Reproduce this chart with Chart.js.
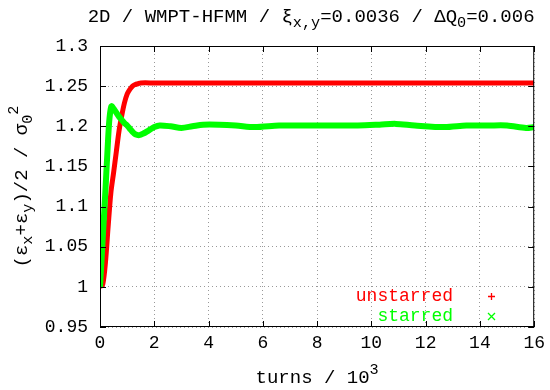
<!DOCTYPE html>
<html>
<head>
<meta charset="utf-8">
<script src="https://cdn.jsdelivr.net/npm/chart.js@4/dist/chart.umd.min.js"></script>
<style>
  html, body { margin: 0; padding: 0; background: #fff; }
  #wrap { width: 550px; height: 390px; position: relative; }
</style>
</head>
<body>
<div id="wrap"><canvas id="emitChart"></canvas></div>
<script>
/* emittance growth, starred vs unstarred */
const unstarredTurns = [0, 0.1, 0.2, 0.3, 0.4, 0.5, 0.6, 0.7, 0.8, 0.9, 1.0, 1.1, 1.2, 1.3, 1.4, 1.5, 2, 4, 6, 8, 10, 12, 14, 16];
const unstarredEmit  = [1.0, 1.003, 1.03, 1.075, 1.117, 1.142, 1.168, 1.194, 1.213, 1.229, 1.24, 1.246, 1.25, 1.252, 1.253, 1.254, 1.254, 1.254, 1.254, 1.254, 1.254, 1.254, 1.254, 1.254];

const starredTurns = [0, 0.1, 0.2, 0.3, 0.35, 0.42, 0.5, 0.6, 0.7, 0.8, 0.9, 1.0, 1.1, 1.2, 1.3, 1.45, 1.6, 1.8, 2.0, 2.2, 2.6, 3.0, 3.4, 3.8, 4.4, 5.0, 5.7, 6.6, 7.5, 8.5, 9.5, 10.3, 10.9, 11.6, 12.7, 13.5, 14.3, 15.0, 15.7, 16];
const starredEmit  = [1.0, 1.06, 1.12, 1.185, 1.21, 1.225, 1.222, 1.217, 1.212, 1.208, 1.204, 1.201, 1.197, 1.193, 1.19, 1.189, 1.191, 1.195, 1.199, 1.201, 1.2, 1.198, 1.2, 1.202, 1.202, 1.201, 1.199, 1.201, 1.201, 1.201, 1.201, 1.202, 1.203, 1.201, 1.199, 1.201, 1.201, 1.201, 1.198, 1.199];

const xTicks = [0, 2, 4, 6, 8, 10, 12, 14, 16];
const yTicks = [0.95, 1, 1.05, 1.1, 1.15, 1.2, 1.25, 1.3];

const seriesLabels = ['unstarred', 'starred'];
const seriesColors = ['#ff0000', '#00ff00'];

const FONT = '"Liberation Mono", "DejaVu Sans Mono", monospace';
const FSIZE = 18;   // tick labels
const LSIZE = 19;   // title and axis labels

const toPoints = (xs, ys) => xs.map((x, i) => ({ x, y: ys[i] }));

// text with sub/superscripts: [text, mode] pairs, mode '' | 'sub' | 'sup'
function richWidth(ctx, parts, size) {
  let w = 0;
  parts.forEach(([t, m]) => {
    ctx.font = `${m ? size * 0.8 : size}px ${FONT}`;
    w += ctx.measureText(t).width;
  });
  return w;
}
function drawRich(ctx, parts, x, y, size, color) {
  ctx.fillStyle = color;
  ctx.textBaseline = 'middle';
  ctx.textAlign = 'left';
  let cx = x;
  parts.forEach(([t, m]) => {
    const s = m ? size * 0.8 : size;
    ctx.font = `${s}px ${FONT}`;
    const dy = m === 'sub' ? size * 0.3 : m === 'sup' ? -size * 0.42 : 0;
    ctx.fillText(t, cx, y + dy);
    cx += ctx.measureText(t).width;
  });
}

const titleParts = [['2D / WMPT-HFMM / ξ', ''], ['x,y', 'sub'], ['=0.0036 / ΔQ', ''], ['0', 'sub'], ['=0.006', '']];
const xLabelParts = [['turns / 10', ''], ['3', 'sup']];
const yLabelParts = [['(ε', ''], ['x', 'sub'], ['+ε', ''], ['y', 'sub'], [')/2 / σ', ''], ['0', 'sub'], ['2', 'sup']];

const gnuplotDecor = {
  id: 'gnuplotDecor',
  afterDraw(chart) {
    const { ctx, chartArea: a, scales } = chart;
    ctx.save();
    // frame + inward ticks on all four sides
    ctx.strokeStyle = '#000';
    ctx.lineWidth = 1;
    ctx.strokeRect(a.left + 0.5, a.top + 0.5, a.right - a.left - 1, a.bottom - a.top - 1);
    ctx.beginPath();
    xTicks.forEach(v => {
      const px = Math.round(scales.x.getPixelForValue(v)) + 0.5;
      ctx.moveTo(px, a.bottom); ctx.lineTo(px, a.bottom - 6);
      ctx.moveTo(px, a.top); ctx.lineTo(px, a.top + 6);
    });
    yTicks.forEach(v => {
      const py = Math.round(scales.y.getPixelForValue(v)) + 0.5;
      ctx.moveTo(a.left, py); ctx.lineTo(a.left + 6, py);
      ctx.moveTo(a.right, py); ctx.lineTo(a.right - 6, py);
    });
    ctx.stroke();

    // title
    const cxm = (a.left + a.right) / 2;
    let w = richWidth(ctx, titleParts, LSIZE);
    drawRich(ctx, titleParts, cxm - w / 2 - 6, 17, LSIZE, '#000');

    // x label
    w = richWidth(ctx, xLabelParts, LSIZE);
    drawRich(ctx, xLabelParts, cxm - w / 2, 378, LSIZE, '#000');

    // y label
    ctx.save();
    ctx.translate(22, (a.top + a.bottom) / 2);
    ctx.rotate(-Math.PI / 2);
    w = richWidth(ctx, yLabelParts, LSIZE);
    drawRich(ctx, yLabelParts, -w / 2, 0, LSIZE, '#000');
    ctx.restore();

    // key, bottom right inside
    ctx.font = `${FSIZE}px ${FONT}`;
    ctx.textAlign = 'right';
    ctx.textBaseline = 'middle';
    ctx.lineWidth = 1.3;
    chart.data.datasets.forEach((ds, i) => {
      const ky = 296 + i * 20;
      ctx.fillStyle = ds.borderColor;
      ctx.fillText(ds.label, 453, ky);
      ctx.strokeStyle = ds.borderColor;
      ctx.beginPath();
      if (i === 0) {
        ctx.moveTo(488, ky + 0.5); ctx.lineTo(495, ky + 0.5);
        ctx.moveTo(491.5, ky - 3); ctx.lineTo(491.5, ky + 4);
      } else {
        ctx.moveTo(488, ky - 3); ctx.lineTo(495, ky + 4);
        ctx.moveTo(495, ky - 3); ctx.lineTo(488, ky + 4);
      }
      ctx.stroke();
    });
    ctx.restore();
  }
};

new Chart(document.getElementById('emitChart'), {
  type: 'line',
  data: {
    datasets: [
      {
        label: seriesLabels[0],
        data: toPoints(unstarredTurns, unstarredEmit),
        borderColor: seriesColors[0],
        borderWidth: 5,
        pointRadius: 0,
        tension: 0.3,
        fill: false,
        order: 2,
      },
      {
        label: seriesLabels[1],
        data: toPoints(starredTurns, starredEmit),
        borderColor: seriesColors[1],
        borderWidth: 6,
        pointRadius: 0,
        tension: 0.3,
        fill: false,
        order: 1,
      }
    ]
  },
  options: {
    responsive: true,
    maintainAspectRatio: false,
    animation: false,
    layout: { padding: { top: 46, right: 9, left: 0, bottom: 0 } },
    plugins: {
      legend: { display: false },
      tooltip: { enabled: false },
    },
    scales: {
      x: {
        type: 'linear',
        min: 0, max: 16,
        afterBuildTicks: s => { s.ticks = xTicks.map(v => ({ value: v })); },
        afterFit: s => { s.height = 63; },
        ticks: { color: '#000', font: { family: FONT, size: FSIZE }, padding: 5, maxRotation: 0 },
        grid: { color: '#999', drawTicks: false, lineWidth: 1 },
        border: { display: false, dash: [1, 3] },
      },
      y: {
        type: 'linear',
        min: 0.95, max: 1.3,
        afterBuildTicks: s => { s.ticks = yTicks.map(v => ({ value: v })); },
        afterFit: s => { s.width = 100; },
        ticks: { color: '#000', font: { family: FONT, size: FSIZE }, padding: 12, callback: v => String(v) },
        grid: { color: '#999', drawTicks: false, lineWidth: 1 },
        border: { display: false, dash: [1, 3] },
      }
    }
  },
  plugins: [gnuplotDecor]
});
</script>
</body>
</html>
